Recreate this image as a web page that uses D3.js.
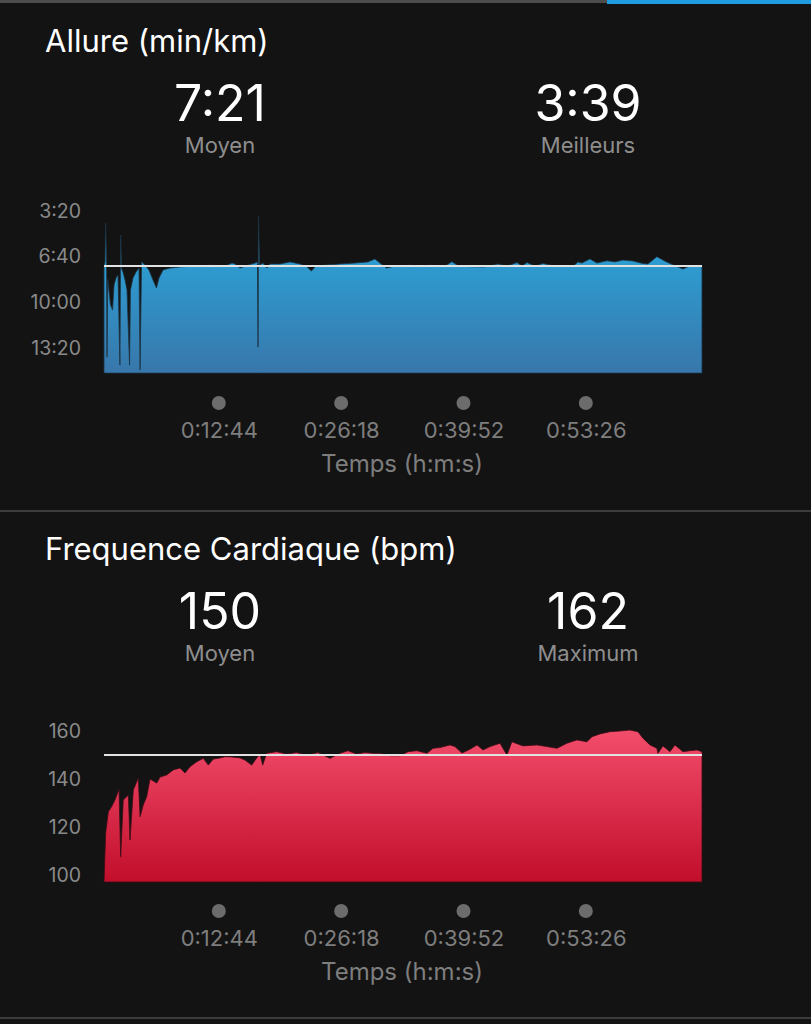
<!DOCTYPE html>
<html><head><meta charset="utf-8">
<script src="https://cdn.jsdelivr.net/npm/d3@7"></script>
<style>
html,body{margin:0;padding:0;background:#131313;}
svg{display:block;}
text{font-family:Inter,"Noto Sans",sans-serif;}
</style></head>
<body>
<svg id="c" width="811" height="1024"></svg>
<script>
// ---- DATA ----
const timeTicks = [764, 1578, 2392, 3206];
const timeTickLabels = ["0:12:44", "0:26:18", "0:39:52", "0:53:26"];
const totalTime = 3979;

const paceTicks = [200, 400, 600, 800];
const paceTickLabels = ["3:20", "6:40", "10:00", "13:20"];
const paceAvg = 441;   // 7:21
const paceStats = ["7:21", "3:39"];
const paceStatLabels = ["Moyen", "Meilleurs"];
const paceTime = [0,7,11,17,20,25,35,43,57,67,80,93,106,111,116,126,140,153,170,176,193,213,233,240,250,273,299,326,349,366,393,439,506,605,705,805,852,872,905,958,1005,1021,1025,1028,1035,1058,1084,1104,1171,1237,1304,1344,1380,1410,1470,1570,1670,1756,1803,1836,1881,1936,2036,2102,2169,2269,2315,2355,2435,2535,2621,2681,2748,2781,2814,2867,2921,3001,3120,3153,3180,3233,3280,3346,3400,3453,3519,3586,3619,3679,3739,3805,3852,3898,3979];
const paceValue = [445,423,253,423,840,500,560,610,634,524,493,480,875,305,450,467,502,546,875,546,493,467,450,896,423,437,458,502,537,493,458,450,445,441,437,441,428,432,450,437,428,423,796,222,437,428,450,432,432,423,432,441,463,441,437,432,428,423,410,428,450,441,437,441,437,441,422,439,444,445,432,441,426,441,426,441,430,441,443,423,428,410,428,418,423,415,419,430,432,400,422,441,454,441,439];

const hrTicks = [100, 120, 140, 160];
const hrTickLabels = ["100", "120", "140", "160"];
const hrAvg = 150;
const hrStats = ["150", "162"];
const hrStatLabels = ["Moyen", "Maximum"];
const hrTime = [0,11,29,51,73,100,111,128,162,173,195,228,240,261,284,306,351,373,417,461,506,539,572,617,661,694,727,772,805,850,905,938,983,1016,1038,1056,1082,1149,1215,1282,1349,1424,1504,1570,1623,1681,1736,1792,1836,1903,1969,2023,2082,2149,2189,2236,2302,2335,2382,2435,2482,2522,2568,2635,2681,2714,2788,2881,2947,3014,3080,3147,3213,3247,3300,3366,3433,3499,3553,3586,3633,3679,3686,3719,3766,3799,3852,3898,3945,3979];
const hrValue = [97,117.5,126.4,128.5,131.3,135.8,107.6,131.3,133.3,114.6,135.4,140.4,124.3,129.2,132.6,140,138.3,140.8,141.7,143.8,144.6,142.5,145.1,147.2,148.6,145.8,148.3,148.8,149.3,149.2,148.8,147.9,145.8,148.8,150.4,145.8,150.7,151.4,150.4,151,150,151,148.6,150.7,151.8,150.4,151,150.7,150.7,149.7,149.7,151.4,151.8,150.7,152.8,153.1,154.2,153.5,150.8,152.4,154.2,152.1,153.5,154.9,150,155.5,153.8,154.2,153.5,152.8,154.9,156.3,155.5,157.6,158.8,159.7,160,160.4,159.7,157,154.2,152.8,150.7,153.8,151.4,154.2,151.4,151.8,152.1,151.4];

// ---- DRAW ----
const svg = d3.select("#c");
const defs = svg.append("defs");
const FONT = 'Inter,"Noto Sans",sans-serif';

// top strip
svg.append("rect").attr("x",0).attr("y",0).attr("width",811).attr("height",3).attr("fill","#4d4d4d");
svg.append("rect").attr("x",607).attr("y",0).attr("width",204).attr("height",4).attr("fill","#1f9be0");
// separators
svg.append("rect").attr("x",0).attr("y",510).attr("width",811).attr("height",2).attr("fill","#3c3c3c");
svg.append("rect").attr("x",0).attr("y",1017).attr("width",811).attr("height",2).attr("fill","#3c3c3c");

const x = d3.scaleLinear().domain([0, totalTime]).range([104, 702]);

function panel(cfg) {
  const g = svg.append("g").attr("transform", `translate(0,${cfg.dy})`);
  g.append("text").attr("x",45).attr("y",52).attr("fill","#ffffff")
    .attr("font-size",31).text(cfg.title);
  const cols = [220, 588];
  cols.forEach((cx,i)=>{
    g.append("text").attr("x",cx).attr("y",121).attr("text-anchor","middle")
      .attr("fill","#ffffff").attr("font-size",50).text(cfg.stats[i]);
    g.append("text").attr("x",cx).attr("y",153).attr("text-anchor","middle")
      .attr("fill","#8e8e8e").attr("font-size",22).text(cfg.statLabels[i]);
  });

  const y = cfg.y;
  const grad = defs.append("linearGradient").attr("id",cfg.id+"g")
    .attr("x1",0).attr("y1",0).attr("x2",0).attr("y2",1);
  grad.append("stop").attr("offset","0%").attr("stop-color",cfg.c1);
  grad.append("stop").attr("offset","100%").attr("stop-color",cfg.c2);

  const data = cfg.t.map((t,i)=>({t, v: cfg.v[i]}));
  const area = d3.area().x(d=>x(d.t)).y0(y.range()[0]).y1(d=>y(d.v));
  g.append("path").datum(data).attr("d",area)
    .attr("fill",`url(#${cfg.id}g)`).attr("stroke",cfg.stroke).attr("stroke-width",0.8);

  g.append("line").attr("x1",x(0)).attr("x2",x(totalTime))
    .attr("y1",y(cfg.avg)).attr("y2",y(cfg.avg))
    .attr("stroke","#e2e2e2").attr("stroke-width",2);

  const ya = d3.axisLeft(y).tickValues(cfg.ticks).tickSize(0).tickPadding(23)
    .tickFormat((d,i)=>cfg.tickLabels[i]);
  const yg = g.append("g").attr("transform",`translate(104,0)`).call(ya);
  yg.select(".domain").remove();
  yg.selectAll("text").attr("fill","#8a8a8a").attr("font-size",19.5).attr("font-family",FONT);

  g.selectAll("circle.td").data(timeTicks).enter().append("circle")
    .attr("cx",d=>x(d)).attr("cy",403).attr("r",7).attr("fill","#6c6c6c");
  const xa = d3.axisBottom(x).tickValues(timeTicks).tickSize(0).tickPadding(0)
    .tickFormat((d,i)=>timeTickLabels[i]);
  const xg = g.append("g").attr("transform","translate(0,422)").call(xa);
  xg.select(".domain").remove();
  xg.selectAll("text").attr("fill","#7e7e7e").attr("font-size",22).attr("font-family",FONT);
  g.append("text").attr("x",402).attr("y",472).attr("text-anchor","middle")
    .attr("fill","#7e7e7e").attr("font-size",24).text("Temps (h:m:s)");
}

panel({
  id:"pace", dy:0, title:"Allure (min/km)", stats:paceStats, statLabels:paceStatLabels,
  y: d3.scaleLinear().domain([910, 200]).range([373.1, 211]),
  t:paceTime, v:paceValue, avg:paceAvg, ticks:paceTicks, tickLabels:paceTickLabels,
  c1:"#29abe0", c2:"#3877ab", stroke:"#1d3344"
});
panel({
  id:"hr", dy:508, title:"Frequence Cardiaque (bpm)", stats:hrStats, statLabels:hrStatLabels,
  y: d3.scaleLinear().domain([97.1, 160]).range([882-508, 731-508]),
  t:hrTime, v:hrValue, avg:hrAvg, ticks:hrTicks, tickLabels:hrTickLabels,
  c1:"#f34d6c", c2:"#c10e2b", stroke:"#3a0c15"
});
</script>
</body></html>
